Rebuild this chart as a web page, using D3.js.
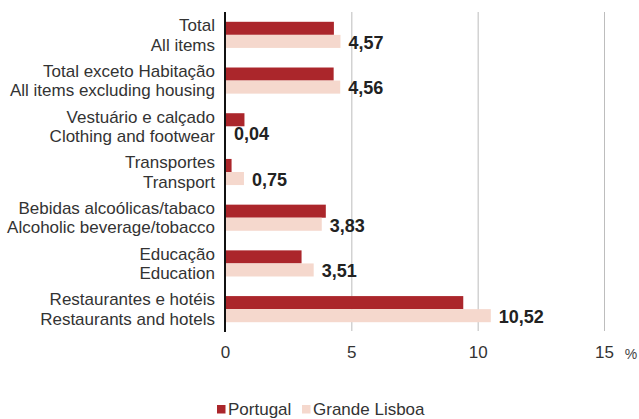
<!DOCTYPE html>
<meta charset="utf-8">
<head>
<script src="https://cdnjs.cloudflare.com/ajax/libs/d3/7.8.5/d3.min.js"></script>
<style>
	body { margin: 0; background: #fff; }
	text { font-family: Arial, "Liberation Sans", sans-serif; }
</style>
</head>
<body>
<div id="svg-container"></div>
<script>

// data
const categoriesPt = ['Total', 'Total exceto Habitação', 'Vestuário e calçado', 'Transportes',
	'Bebidas alcoólicas/tabaco', 'Educação', 'Restaurantes e hotéis']
const categoriesEn = ['All items', 'All items excluding housing', 'Clothing and footwear', 'Transport',
	'Alcoholic beverage/tobacco', 'Education', 'Restaurants and hotels']
const portugal = [4.31, 4.30, 0.77, 0.26, 3.99, 3.03, 9.43]
const lisboa = [4.57, 4.56, 0.04, 0.75, 3.83, 3.51, 10.52]
const lisboaLabels = ['4,57', '4,56', '0,04', '0,75', '3,83', '3,51', '10,52']
const ticks = [0, 5, 10, 15]
const seriesNames = ['Portugal', 'Grande Lisboa']

const colors = d3.scaleOrdinal()
	.domain(seriesNames)
	.range(['#ab262b', '#f5d8cd'])

const width = 639, height = 419
const plot = {left: 225, right: 604, top: 12, bottom: 332}

const svg = d3.select('#svg-container').append('svg')
	.attr('width', width)
	.attr('height', height)

const xScale = d3.scaleLinear()
	.domain([0, 15])
	.range([plot.left, plot.right])

const yScale = d3.scaleBand()
	.domain(d3.range(categoriesPt.length))
	.range([plot.top, plot.bottom])

const innerScale = d3.scaleBand()
	.domain(seriesNames)
	.range([0, yScale.bandwidth()])
	.paddingOuter(0.75)
	.paddingInner(0)

const rows = categoriesPt.map((c, i) => ({
	i, pt: c, en: categoriesEn[i],
	values: [{s: 'Portugal', v: portugal[i]}, {s: 'Grande Lisboa', v: lisboa[i]}],
	label: lisboaLabels[i], lisboa: lisboa[i]
}))

// gridlines
svg.append('g')
	.selectAll('line')
	.data(ticks.filter(t => t > 0))
	.enter().append('line')
	.attr('x1', d => xScale(d) + 0.5)
	.attr('x2', d => xScale(d) + 0.5)
	.attr('y1', plot.top)
	.attr('y2', plot.bottom - 1)
	.attr('stroke', '#bdbdbd')
	.attr('stroke-width', 1)

// bars
const rowGs = svg.selectAll('.row')
	.data(rows)
	.enter().append('g')
	.attr('class', 'row')
	.attr('transform', d => `translate(0,${yScale(d.i)})`)

rowGs.selectAll('rect')
	.data(d => d.values)
	.enter().append('rect')
	.attr('x', xScale(0))
	.attr('y', d => innerScale(d.s))
	.attr('width', d => xScale(d.v) - xScale(0))
	.attr('height', innerScale.bandwidth())
	.attr('fill', d => colors(d.s))

// value labels for Grande Lisboa
rowGs.append('text')
	.attr('x', d => xScale(d.lisboa) + 8)
	.attr('y', innerScale('Grande Lisboa') + innerScale.bandwidth() / 2 + 1)
	.attr('dy', '0.35em')
	.attr('font-size', 18)
	.attr('font-weight', 'bold')
	.attr('fill', '#222')
	.text(d => d.label)

// category labels
const catText = rowGs.append('text')
	.attr('text-anchor', 'end')
	.attr('font-size', 17)
	.attr('fill', '#333')

catText.append('tspan')
	.attr('x', 215)
	.attr('y', yScale.bandwidth() / 2 - 9.7)
	.attr('dy', '0.35em')
	.text(d => d.pt)

catText.append('tspan')
	.attr('x', 215)
	.attr('y', yScale.bandwidth() / 2 + 9.7)
	.attr('dy', '0.35em')
	.text(d => d.en)

// axis line at 0
svg.append('line')
	.attr('x1', xScale(0))
	.attr('x2', xScale(0))
	.attr('y1', plot.top)
	.attr('y2', plot.bottom)
	.attr('stroke', '#111')
	.attr('stroke-width', 2)

// x tick labels
const xAxis = svg.append('g')
	.attr('transform', `translate(0,${plot.bottom + 14})`)
	.call(d3.axisBottom(xScale).tickValues(ticks).tickSize(0).tickPadding(0))
xAxis.select('.domain').remove()
xAxis.selectAll('text')
	.attr('font-size', 17)
	.attr('font-family', 'Arial, "Liberation Sans", sans-serif')
	.attr('fill', '#333')

svg.append('text')
	.attr('x', 631)
	.attr('y', 359)
	.attr('text-anchor', 'middle')
	.attr('font-size', 14)
	.attr('fill', '#444')
	.text('%')

// legend
const legend = svg.append('g')
	.attr('transform', 'translate(217,405)')

const legendX = [0, 85]
const legendItems = legend.selectAll('g')
	.data(seriesNames)
	.enter().append('g')
	.attr('transform', (d, i) => `translate(${legendX[i]},0)`)

legendItems.append('rect')
	.attr('width', 8.5)
	.attr('height', 8.5)
	.attr('fill', d => colors(d))

legendItems.append('text')
	.attr('x', 11)
	.attr('y', 10)
	.attr('font-size', 17)
	.attr('fill', '#333')
	.text(d => d)

</script>
</body>
